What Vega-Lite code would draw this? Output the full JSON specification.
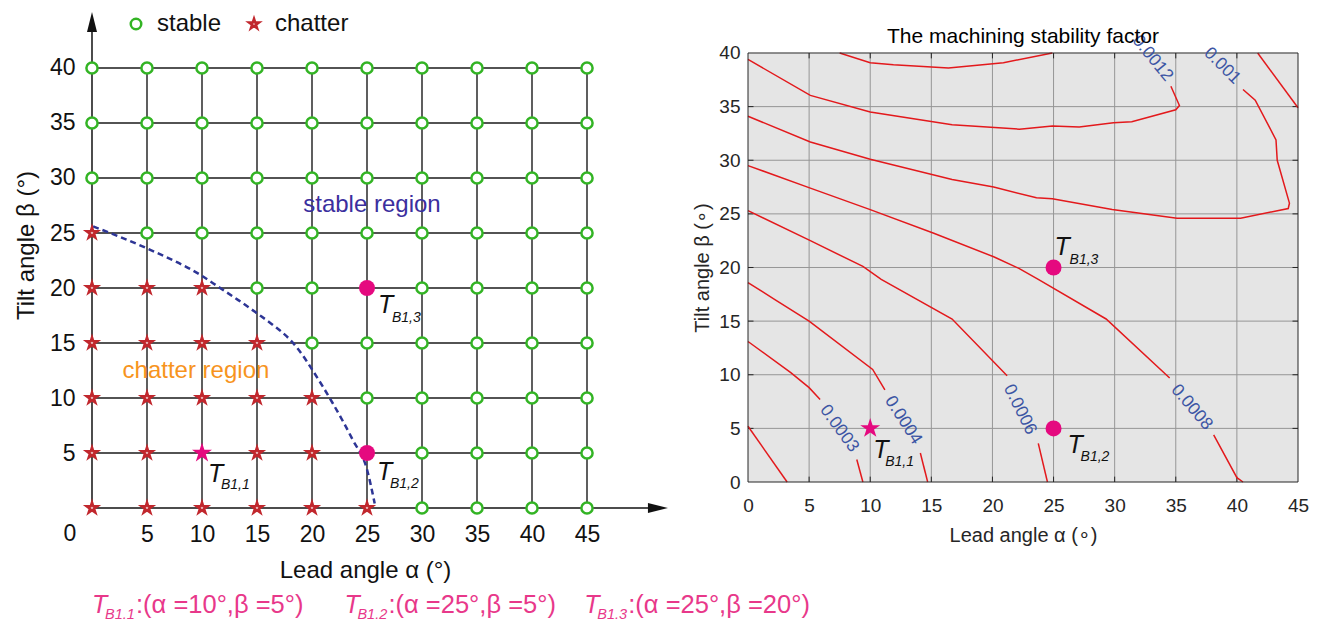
{
  "$schema": "https://vega.github.io/schema/vega-lite/v6.json",
  "background": "white",
  "autosize": {"type": "none"},
  "padding": 0,
  "width": 1322,
  "height": 622,
  "config": {
    "font": "Liberation Sans",
    "view": {"stroke": null},
    "axis": {"labelFont": "Liberation Sans", "titleFont": "Liberation Sans", "labelFlush": false, "labelOverlap": false}
  },
  "datasets": {
    "grid": [
      {"a": 0, "b": 40, "state": "stable"}, {"a": 5, "b": 40, "state": "stable"}, {"a": 10, "b": 40, "state": "stable"}, {"a": 15, "b": 40, "state": "stable"}, {"a": 20, "b": 40, "state": "stable"},
      {"a": 25, "b": 40, "state": "stable"}, {"a": 30, "b": 40, "state": "stable"}, {"a": 35, "b": 40, "state": "stable"}, {"a": 40, "b": 40, "state": "stable"}, {"a": 45, "b": 40, "state": "stable"},
      {"a": 0, "b": 35, "state": "stable"}, {"a": 5, "b": 35, "state": "stable"}, {"a": 10, "b": 35, "state": "stable"}, {"a": 15, "b": 35, "state": "stable"}, {"a": 20, "b": 35, "state": "stable"},
      {"a": 25, "b": 35, "state": "stable"}, {"a": 30, "b": 35, "state": "stable"}, {"a": 35, "b": 35, "state": "stable"}, {"a": 40, "b": 35, "state": "stable"}, {"a": 45, "b": 35, "state": "stable"},
      {"a": 0, "b": 30, "state": "stable"}, {"a": 5, "b": 30, "state": "stable"}, {"a": 10, "b": 30, "state": "stable"}, {"a": 15, "b": 30, "state": "stable"}, {"a": 20, "b": 30, "state": "stable"},
      {"a": 25, "b": 30, "state": "stable"}, {"a": 30, "b": 30, "state": "stable"}, {"a": 35, "b": 30, "state": "stable"}, {"a": 40, "b": 30, "state": "stable"}, {"a": 45, "b": 30, "state": "stable"},
      {"a": 0, "b": 25, "state": "chatter"}, {"a": 5, "b": 25, "state": "stable"}, {"a": 10, "b": 25, "state": "stable"}, {"a": 15, "b": 25, "state": "stable"}, {"a": 20, "b": 25, "state": "stable"},
      {"a": 25, "b": 25, "state": "stable"}, {"a": 30, "b": 25, "state": "stable"}, {"a": 35, "b": 25, "state": "stable"}, {"a": 40, "b": 25, "state": "stable"}, {"a": 45, "b": 25, "state": "stable"},
      {"a": 0, "b": 20, "state": "chatter"}, {"a": 5, "b": 20, "state": "chatter"}, {"a": 10, "b": 20, "state": "chatter"}, {"a": 15, "b": 20, "state": "stable"}, {"a": 20, "b": 20, "state": "stable"},
      {"a": 30, "b": 20, "state": "stable"}, {"a": 35, "b": 20, "state": "stable"}, {"a": 40, "b": 20, "state": "stable"}, {"a": 45, "b": 20, "state": "stable"},
      {"a": 0, "b": 15, "state": "chatter"}, {"a": 5, "b": 15, "state": "chatter"}, {"a": 10, "b": 15, "state": "chatter"}, {"a": 15, "b": 15, "state": "chatter"}, {"a": 20, "b": 15, "state": "stable"},
      {"a": 25, "b": 15, "state": "stable"}, {"a": 30, "b": 15, "state": "stable"}, {"a": 35, "b": 15, "state": "stable"}, {"a": 40, "b": 15, "state": "stable"}, {"a": 45, "b": 15, "state": "stable"},
      {"a": 0, "b": 10, "state": "chatter"}, {"a": 5, "b": 10, "state": "chatter"}, {"a": 10, "b": 10, "state": "chatter"}, {"a": 15, "b": 10, "state": "chatter"}, {"a": 20, "b": 10, "state": "chatter"},
      {"a": 25, "b": 10, "state": "stable"}, {"a": 30, "b": 10, "state": "stable"}, {"a": 35, "b": 10, "state": "stable"}, {"a": 40, "b": 10, "state": "stable"}, {"a": 45, "b": 10, "state": "stable"},
      {"a": 0, "b": 5, "state": "chatter"}, {"a": 5, "b": 5, "state": "chatter"}, {"a": 15, "b": 5, "state": "chatter"}, {"a": 20, "b": 5, "state": "chatter"},
      {"a": 30, "b": 5, "state": "stable"}, {"a": 35, "b": 5, "state": "stable"}, {"a": 40, "b": 5, "state": "stable"}, {"a": 45, "b": 5, "state": "stable"},
      {"a": 0, "b": 0, "state": "chatter"}, {"a": 5, "b": 0, "state": "chatter"}, {"a": 10, "b": 0, "state": "chatter"}, {"a": 15, "b": 0, "state": "chatter"}, {"a": 20, "b": 0, "state": "chatter"},
      {"a": 25, "b": 0, "state": "chatter"}, {"a": 30, "b": 0, "state": "stable"}, {"a": 35, "b": 0, "state": "stable"}, {"a": 40, "b": 0, "state": "stable"}, {"a": 45, "b": 0, "state": "stable"}
    ],
    "picks": [
      {"name": "B1,1", "a": 10, "b": 5},
      {"name": "B1,2", "a": 25, "b": 5},
      {"name": "B1,3", "a": 25, "b": 20}
    ],
    "boundary": [
      {"a": 0.1, "b": 25.6}, {"a": 5, "b": 23.6}, {"a": 10, "b": 21.1}, {"a": 11.5, "b": 20.1}, {"a": 13.3, "b": 18.9},
      {"a": 15, "b": 17.7}, {"a": 16.5, "b": 16.6}, {"a": 18, "b": 15.3}, {"a": 19, "b": 14.1}, {"a": 20, "b": 12.6},
      {"a": 21.9, "b": 9.5}, {"a": 23.7, "b": 6.2}, {"a": 25, "b": 3.5}, {"a": 25.7, "b": 0.4}
    ],
    "notes": [
      {"sub": "B1.1", "rest": ":(α =10°,β =5°)", "a": 0.0, "b": -9.55},
      {"sub": "B1.2", "rest": ":(α =25°,β =5°)", "a": 22.95, "b": -9.55},
      {"sub": "B1.3", "rest": ":(α =25°,β =20°)", "a": 44.75, "b": -9.55}
    ],
    "contours": [
      {"seg": "l2", "i": 0, "a": 0, "b": 5.2}, {"seg": "l2", "i": 1, "a": 3.2, "b": 0},
      {"seg": "l3a", "i": 0, "a": 0, "b": 13.1}, {"seg": "l3a", "i": 1, "a": 3.5, "b": 10.2}, {"seg": "l3a", "i": 2, "a": 5, "b": 8.8}, {"seg": "l3a", "i": 3, "a": 5.9, "b": 7.7},
      {"seg": "l3b", "i": 0, "a": 8.9, "b": 2.1}, {"seg": "l3b", "i": 1, "a": 9.4, "b": 0},
      {"seg": "l4a", "i": 0, "a": 0, "b": 18.6}, {"seg": "l4a", "i": 1, "a": 2.2, "b": 17.0}, {"seg": "l4a", "i": 2, "a": 5, "b": 15}, {"seg": "l4a", "i": 3, "a": 10.2, "b": 10.5}, {"seg": "l4a", "i": 4, "a": 11.2, "b": 8.6},
      {"seg": "l4b", "i": 0, "a": 14.1, "b": 2.7}, {"seg": "l4b", "i": 1, "a": 14.7, "b": 0},
      {"seg": "l6a", "i": 0, "a": 0, "b": 25.3}, {"seg": "l6a", "i": 1, "a": 5.1, "b": 22.5}, {"seg": "l6a", "i": 2, "a": 9.4, "b": 20.1}, {"seg": "l6a", "i": 3, "a": 10.9, "b": 18.9}, {"seg": "l6a", "i": 4, "a": 16.7, "b": 15.2}, {"seg": "l6a", "i": 5, "a": 21.2, "b": 9.9},
      {"seg": "l6b", "i": 0, "a": 23.75, "b": 3.6}, {"seg": "l6b", "i": 1, "a": 24.5, "b": 0},
      {"seg": "l8a", "i": 0, "a": 0, "b": 29.5}, {"seg": "l8a", "i": 1, "a": 5.1, "b": 27.4}, {"seg": "l8a", "i": 2, "a": 10, "b": 25.4}, {"seg": "l8a", "i": 3, "a": 15.2, "b": 23.2}, {"seg": "l8a", "i": 4, "a": 20.1, "b": 21.0},
      {"seg": "l8a", "i": 5, "a": 22.2, "b": 19.9}, {"seg": "l8a", "i": 6, "a": 23.75, "b": 18.9}, {"seg": "l8a", "i": 7, "a": 29.3, "b": 15.2}, {"seg": "l8a", "i": 8, "a": 34.5, "b": 9.7},
      {"seg": "l8b", "i": 0, "a": 38.1, "b": 4.4}, {"seg": "l8b", "i": 1, "a": 40, "b": 0.4}, {"seg": "l8b", "i": 2, "a": 40.5, "b": 0},
      {"seg": "l10", "i": 0, "a": 0, "b": 34.1}, {"seg": "l10", "i": 1, "a": 5.1, "b": 31.7}, {"seg": "l10", "i": 2, "a": 10, "b": 30.1}, {"seg": "l10", "i": 3, "a": 16.7, "b": 28.2},
      {"seg": "l10", "i": 4, "a": 20.1, "b": 27.5}, {"seg": "l10", "i": 5, "a": 23.6, "b": 26.5}, {"seg": "l10", "i": 6, "a": 24.9, "b": 26.4}, {"seg": "l10", "i": 7, "a": 29.8, "b": 25.4},
      {"seg": "l10", "i": 8, "a": 35.1, "b": 24.6}, {"seg": "l10", "i": 9, "a": 40.3, "b": 24.6}, {"seg": "l10", "i": 10, "a": 44.2, "b": 25.5}, {"seg": "l10", "i": 11, "a": 44.3, "b": 26.0},
      {"seg": "l10", "i": 12, "a": 43.3, "b": 30.0}, {"seg": "l10", "i": 13, "a": 43.2, "b": 31.9}, {"seg": "l10", "i": 14, "a": 41.5, "b": 35.6}, {"seg": "l10", "i": 15, "a": 40.5, "b": 36.6},
      {"seg": "l12", "i": 0, "a": 0, "b": 39.4}, {"seg": "l12", "i": 1, "a": 5.1, "b": 36.05}, {"seg": "l12", "i": 2, "a": 10, "b": 34.5}, {"seg": "l12", "i": 3, "a": 16.7, "b": 33.3},
      {"seg": "l12", "i": 4, "a": 22.2, "b": 32.9}, {"seg": "l12", "i": 5, "a": 24.9, "b": 33.2}, {"seg": "l12", "i": 6, "a": 27.1, "b": 33.1}, {"seg": "l12", "i": 7, "a": 29.9, "b": 33.5},
      {"seg": "l12", "i": 8, "a": 31.4, "b": 33.6}, {"seg": "l12", "i": 9, "a": 35, "b": 34.7}, {"seg": "l12", "i": 10, "a": 35.3, "b": 35.1}, {"seg": "l12", "i": 11, "a": 34.6, "b": 36.9},
      {"seg": "l14", "i": 0, "a": 7.5, "b": 40}, {"seg": "l14", "i": 1, "a": 10, "b": 39.1}, {"seg": "l14", "i": 2, "a": 11.9, "b": 38.9}, {"seg": "l14", "i": 3, "a": 16.4, "b": 38.6},
      {"seg": "l14", "i": 4, "a": 20.9, "b": 39.1}, {"seg": "l14", "i": 5, "a": 24.9, "b": 40},
      {"seg": "l10c", "i": 0, "a": 41.7, "b": 40}, {"seg": "l10c", "i": 1, "a": 45, "b": 34.9}
    ],
    "levels": [
      {"level": "0.0003", "a": 7.46, "b": 4.98},
      {"level": "0.0004", "a": 12.7, "b": 5.76},
      {"level": "0.0006", "a": 22.25, "b": 6.75},
      {"level": "0.0008", "a": 36.3, "b": 6.97},
      {"level": "0.001", "a": 38.8, "b": 38.8},
      {"level": "0.0012", "a": 33.1, "b": 39.5}
    ]
  },
  "resolve": {"scale": {"x": "independent", "y": "independent"}, "axis": {"x": "independent", "y": "independent"}},
  "layer": [
    {
      "encoding": {
        "x": {
          "field": "a", "type": "quantitative",
          "scale": {"domain": [-8.3636, 111.8182], "nice": false, "zero": false},
          "axis": {
            "orient": "bottom", "offset": -114,
            "values": [5, 10, 15, 20, 25, 30, 35, 40, 45],
            "domain": false, "ticks": false, "grid": false,
            "labelFontSize": 23, "labelColor": "#111111", "labelBaseline": "alphabetic", "labelPadding": 33,
            "title": "Lead angle α (°)", "titleFontSize": 24, "titleFontWeight": "normal", "titleColor": "#111111",
            "titleX": 365, "titleY": 69, "titleBaseline": "alphabetic"
          }
        },
        "y": {
          "field": "b", "type": "quantitative",
          "scale": {"domain": [-10.3636, 46.1818], "nice": false, "zero": false},
          "axis": {
            "orient": "left", "offset": -92,
            "values": [5, 10, 15, 20, 25, 30, 35, 40],
            "domain": false, "ticks": false, "grid": false,
            "labelFontSize": 23, "labelColor": "#111111", "labelPadding": 17,
            "title": "Tilt angle β (°)", "titleFontSize": 24, "titleFontWeight": "normal", "titleColor": "#111111",
            "titleX": -59, "titleY": 245, "titleBaseline": "alphabetic"
          }
        }
      },
      "layer": [
        {
          "data": {"values": [{"a": 5, "b": 0}, {"a": 10, "b": 0}, {"a": 15, "b": 0}, {"a": 20, "b": 0}, {"a": 25, "b": 0}, {"a": 30, "b": 0}, {"a": 35, "b": 0}, {"a": 40, "b": 0}, {"a": 45, "b": 0}]},
          "mark": {"type": "rule", "stroke": "#1a1a1a", "strokeWidth": 1.4},
          "encoding": {"y2": {"datum": 40}}
        },
        {
          "data": {"values": [{"a": 0, "b": 5}, {"a": 0, "b": 10}, {"a": 0, "b": 15}, {"a": 0, "b": 20}, {"a": 0, "b": 25}, {"a": 0, "b": 30}, {"a": 0, "b": 35}, {"a": 0, "b": 40}]},
          "mark": {"type": "rule", "stroke": "#1a1a1a", "strokeWidth": 1.4},
          "encoding": {"x2": {"datum": 45}}
        },
        {
          "data": {"values": [{"a": 0, "b": 0}]},
          "mark": {"type": "rule", "stroke": "#111111", "strokeWidth": 1.5},
          "encoding": {"y2": {"datum": 44.5}}
        },
        {
          "data": {"values": [{"a": 0, "b": 0}]},
          "mark": {"type": "rule", "stroke": "#111111", "strokeWidth": 1.5},
          "encoding": {"x2": {"datum": 51.8}}
        },
        {
          "data": {"values": [{"a": 0, "b": 45.09}]},
          "mark": {"type": "point", "shape": "M0,0L1,4L-1,4Z", "size": 100, "filled": true, "fill": "#111111", "opacity": 1, "strokeWidth": 0}
        },
        {
          "data": {"values": [{"a": 52.36, "b": 0}]},
          "mark": {"type": "point", "shape": "M0,0L-4,-1L-4,1Z", "size": 100, "filled": true, "fill": "#111111", "opacity": 1, "strokeWidth": 0}
        },
        {
          "data": {"name": "boundary"},
          "mark": {"type": "line", "stroke": "#2d3595", "strokeWidth": 2.5, "strokeDash": [6, 4], "interpolate": "monotone"},
          "encoding": {}
        },
        {
          "data": {"name": "grid"},
          "mark": {"type": "point", "fill": "white", "filled": false, "strokeWidth": 2.5, "opacity": 1, "size": 125},
          "encoding": {
            "stroke": {
              "field": "state", "type": "nominal",
              "scale": {"domain": ["stable", "chatter"], "range": ["#33b424", "#c1272d"]},
              "legend": {"orient": "none", "legendX": 124, "legendY": 12, "direction": "horizontal", "title": null,
                         "labelFontSize": 24, "labelColor": "#111111", "labelFont": "Liberation Sans",
                         "symbolStrokeWidth": 2.5, "symbolSize": 110, "symbolFillColor": "white",
                         "columnPadding": 20, "labelOffset": 9, "padding": 0}
            },
            "shape": {
              "field": "state", "type": "nominal",
              "scale": {"domain": ["stable", "chatter"],
                        "range": ["circle", "M0,-1L0.225,-0.309L0.951,-0.309L0.363,0.118L0.588,0.809L0,0.382L-0.588,0.809L-0.363,0.118L-0.951,-0.309L-0.225,-0.309Z"]},
              "legend": {"orient": "none", "legendX": 124, "legendY": 12, "direction": "horizontal", "title": null,
                         "labelFontSize": 24, "labelColor": "#111111", "labelFont": "Liberation Sans",
                         "symbolStrokeWidth": 2.5, "symbolSize": 110, "symbolFillColor": "white",
                         "columnPadding": 20, "labelOffset": 9, "padding": 0}
            }
          }
        },
        {
          "data": {"name": "picks"},
          "transform": [{"filter": "datum.name !== 'B1,1'"}],
          "mark": {"type": "point", "shape": "circle", "filled": true, "fill": "#e5097f", "size": 256, "opacity": 1, "strokeWidth": 0}
        },
        {
          "data": {"name": "picks"},
          "transform": [{"filter": "datum.name === 'B1,1'"}],
          "mark": {"type": "point", "shape": "M0,-1L0.225,-0.309L0.951,-0.309L0.363,0.118L0.588,0.809L0,0.382L-0.588,0.809L-0.363,0.118L-0.951,-0.309L-0.225,-0.309Z", "filled": true, "fill": "#e5097f", "size": 441, "opacity": 1, "strokeWidth": 0}
        },
        {
          "data": {"name": "picks"},
          "transform": [{"filter": "datum.name === 'B1,3'"}],
          "layer": [
            {"mark": {"type": "text", "text": "T", "align": "left", "baseline": "alphabetic", "fontStyle": "italic", "fontSize": 25, "color": "#111111", "dx": 11, "dy": 25}},
            {"mark": {"type": "text", "align": "left", "baseline": "alphabetic", "fontStyle": "italic", "fontSize": 14, "color": "#111111", "dx": 25, "dy": 34}, "encoding": {"text": {"field": "name"}}}
          ]
        },
        {
          "data": {"name": "picks"},
          "transform": [{"filter": "datum.name === 'B1,1'"}],
          "layer": [
            {"mark": {"type": "text", "text": "T", "align": "left", "baseline": "alphabetic", "fontStyle": "italic", "fontSize": 25, "color": "#111111", "dx": 6, "dy": 29}},
            {"mark": {"type": "text", "align": "left", "baseline": "alphabetic", "fontStyle": "italic", "fontSize": 14, "color": "#111111", "dx": 19, "dy": 36}, "encoding": {"text": {"field": "name"}}}
          ]
        },
        {
          "data": {"name": "picks"},
          "transform": [{"filter": "datum.name === 'B1,2'"}],
          "layer": [
            {"mark": {"type": "text", "text": "T", "align": "left", "baseline": "alphabetic", "fontStyle": "italic", "fontSize": 25, "color": "#111111", "dx": 10, "dy": 27}},
            {"mark": {"type": "text", "align": "left", "baseline": "alphabetic", "fontStyle": "italic", "fontSize": 14, "color": "#111111", "dx": 23, "dy": 35}, "encoding": {"text": {"field": "name"}}}
          ]
        },
        {
          "data": {"values": [{"label": "0", "a": 0, "b": 0}]},
          "mark": {"type": "text", "fontSize": 23, "color": "#111111", "align": "center", "baseline": "alphabetic", "dx": -22, "dy": 33},
          "encoding": {"text": {"field": "label"}}
        },
        {
          "data": {"values": [{"label": "stable region", "a": 25.45, "b": 27.55}]},
          "mark": {"type": "text", "fontSize": 24, "color": "#3b2f9e", "align": "center", "baseline": "middle"},
          "encoding": {"text": {"field": "label"}}
        },
        {
          "data": {"values": [{"label": "chatter region", "a": 9.45, "b": 12.45}]},
          "mark": {"type": "text", "fontSize": 24, "color": "#f7941d", "align": "center", "baseline": "middle"},
          "encoding": {"text": {"field": "label"}}
        },
        {
          "data": {"name": "notes"},
          "layer": [
            {"mark": {"type": "text", "text": "T", "align": "left", "baseline": "alphabetic", "fontStyle": "italic", "fontSize": 25, "color": "#e8388a"}},
            {"mark": {"type": "text", "align": "left", "baseline": "alphabetic", "fontStyle": "italic", "fontSize": 14.5, "color": "#e8388a", "dx": 13, "dy": 6}, "encoding": {"text": {"field": "sub"}}},
            {"mark": {"type": "text", "align": "left", "baseline": "alphabetic", "fontSize": 25.5, "color": "#e8388a", "dx": 44}, "encoding": {"text": {"field": "rest"}}}
          ]
        }
      ]
    },
    {
      "encoding": {
        "x": {
          "field": "a", "type": "quantitative",
          "scale": {"domain": [-61.2, 46.9636], "nice": false, "zero": false},
          "axis": {
            "orient": "bottom", "offset": -140,
            "values": [0, 5, 10, 15, 20, 25, 30, 35, 40, 45],
            "domain": false, "ticks": false, "grid": false,
            "labelFontSize": 19, "labelColor": "#262626", "labelBaseline": "alphabetic", "labelPadding": 29,
            "title": "Lead angle α (∘)", "titleFontSize": 20, "titleFontWeight": "normal", "titleColor": "#262626",
            "titleX": 1023, "titleY": 59, "titleBaseline": "alphabetic"
          }
        },
        "y": {
          "field": "b", "type": "quantitative",
          "scale": {"domain": [-13.0536, 44.9417], "nice": false, "zero": false},
          "axis": {
            "orient": "left", "offset": -748,
            "values": [0, 5, 10, 15, 20, 25, 30, 35, 40],
            "domain": false, "ticks": false, "grid": false,
            "labelFontSize": 19, "labelColor": "#262626", "labelPadding": 8,
            "title": "Tilt angle β (∘)", "titleFontSize": 20, "titleFontWeight": "normal", "titleColor": "#262626",
            "titleX": -40, "titleY": 267.5, "titleBaseline": "alphabetic"
          }
        }
      },
      "layer": [
        {
          "data": {"values": [{"a": 0, "b": 0}]},
          "mark": {"type": "rect", "fill": "#e5e5e5"},
          "encoding": {"x2": {"datum": 45}, "y2": {"datum": 40}}
        },
        {
          "data": {"values": [{"a": 5, "b": 0}, {"a": 10, "b": 0}, {"a": 15, "b": 0}, {"a": 20, "b": 0}, {"a": 25, "b": 0}, {"a": 30, "b": 0}, {"a": 35, "b": 0}, {"a": 40, "b": 0}]},
          "mark": {"type": "rule", "stroke": "#969696", "strokeWidth": 1},
          "encoding": {"y2": {"datum": 40}}
        },
        {
          "data": {"values": [{"a": 0, "b": 5}, {"a": 0, "b": 10}, {"a": 0, "b": 15}, {"a": 0, "b": 20}, {"a": 0, "b": 25}, {"a": 0, "b": 30}, {"a": 0, "b": 35}]},
          "mark": {"type": "rule", "stroke": "#969696", "strokeWidth": 1},
          "encoding": {"x2": {"datum": 45}}
        },
        {
          "data": {"values": [{"a": 5, "b": 0}, {"a": 10, "b": 0}, {"a": 15, "b": 0}, {"a": 20, "b": 0}, {"a": 25, "b": 0}, {"a": 30, "b": 0}, {"a": 35, "b": 0}, {"a": 40, "b": 0}]},
          "mark": {"type": "rule", "stroke": "#262626", "strokeWidth": 1},
          "encoding": {"y2": {"datum": 0.5}}
        },
        {
          "data": {"values": [{"a": 5, "b": 40}, {"a": 10, "b": 40}, {"a": 15, "b": 40}, {"a": 20, "b": 40}, {"a": 25, "b": 40}, {"a": 30, "b": 40}, {"a": 35, "b": 40}, {"a": 40, "b": 40}]},
          "mark": {"type": "rule", "stroke": "#262626", "strokeWidth": 1},
          "encoding": {"y2": {"datum": 39.5}}
        },
        {
          "data": {"values": [{"a": 0, "b": 5}, {"a": 0, "b": 10}, {"a": 0, "b": 15}, {"a": 0, "b": 20}, {"a": 0, "b": 25}, {"a": 0, "b": 30}, {"a": 0, "b": 35}]},
          "mark": {"type": "rule", "stroke": "#262626", "strokeWidth": 1},
          "encoding": {"x2": {"datum": 0.45}}
        },
        {
          "data": {"values": [{"a": 45, "b": 5}, {"a": 45, "b": 10}, {"a": 45, "b": 15}, {"a": 45, "b": 20}, {"a": 45, "b": 25}, {"a": 45, "b": 30}, {"a": 45, "b": 35}]},
          "mark": {"type": "rule", "stroke": "#262626", "strokeWidth": 1},
          "encoding": {"x2": {"datum": 44.55}}
        },
        {
          "data": {"name": "contours"},
          "mark": {"type": "line", "stroke": "#e3191c", "strokeWidth": 1.5},
          "encoding": {"detail": {"field": "seg", "type": "nominal"}, "order": {"field": "i", "type": "quantitative"}}
        },
        {
          "data": {"values": [{"a": 0, "b": 0}]},
          "mark": {"type": "rect", "fillOpacity": 0, "stroke": "#262626", "strokeWidth": 1},
          "encoding": {"x2": {"datum": 45}, "y2": {"datum": 40}}
        },
        {
          "data": {"name": "levels"},
          "transform": [{"filter": "datum.level === '0.0003'"}],
          "mark": {"type": "text", "fontSize": 17.5, "color": "#3c55a4", "align": "center", "baseline": "middle", "angle": 54},
          "encoding": {"text": {"field": "level"}}
        },
        {
          "data": {"name": "levels"},
          "transform": [{"filter": "datum.level === '0.0004'"}],
          "mark": {"type": "text", "fontSize": 17.5, "color": "#3c55a4", "align": "center", "baseline": "middle", "angle": 57.5},
          "encoding": {"text": {"field": "level"}}
        },
        {
          "data": {"name": "levels"},
          "transform": [{"filter": "datum.level === '0.0006'"}],
          "mark": {"type": "text", "fontSize": 17.5, "color": "#3c55a4", "align": "center", "baseline": "middle", "angle": 63.7},
          "encoding": {"text": {"field": "level"}}
        },
        {
          "data": {"name": "levels"},
          "transform": [{"filter": "datum.level === '0.0008'"}],
          "mark": {"type": "text", "fontSize": 17.5, "color": "#3c55a4", "align": "center", "baseline": "middle", "angle": 49.5},
          "encoding": {"text": {"field": "level"}}
        },
        {
          "data": {"name": "levels"},
          "transform": [{"filter": "datum.level === '0.001'"}],
          "mark": {"type": "text", "fontSize": 17.5, "color": "#3c55a4", "align": "center", "baseline": "middle", "angle": 44.8},
          "encoding": {"text": {"field": "level"}}
        },
        {
          "data": {"name": "levels"},
          "transform": [{"filter": "datum.level === '0.0012'"}],
          "mark": {"type": "text", "fontSize": 17.5, "color": "#3c55a4", "align": "center", "baseline": "middle", "angle": 50.6},
          "encoding": {"text": {"field": "level"}}
        },
        {
          "data": {"name": "picks"},
          "transform": [{"filter": "datum.name !== 'B1,1'"}],
          "mark": {"type": "point", "shape": "circle", "filled": true, "fill": "#e5097f", "size": 256, "opacity": 1, "strokeWidth": 0}
        },
        {
          "data": {"name": "picks"},
          "transform": [{"filter": "datum.name === 'B1,1'"}],
          "mark": {"type": "point", "shape": "M0,-1L0.225,-0.309L0.951,-0.309L0.363,0.118L0.588,0.809L0,0.382L-0.588,0.809L-0.363,0.118L-0.951,-0.309L-0.225,-0.309Z", "filled": true, "fill": "#e5097f", "size": 441, "opacity": 1, "strokeWidth": 0}
        },
        {
          "data": {"name": "picks"},
          "transform": [{"filter": "datum.name === 'B1,3'"}],
          "layer": [
            {"mark": {"type": "text", "text": "T", "align": "left", "baseline": "alphabetic", "fontStyle": "italic", "fontSize": 25, "color": "#111111", "dx": 1, "dy": -12}},
            {"mark": {"type": "text", "align": "left", "baseline": "alphabetic", "fontStyle": "italic", "fontSize": 14, "color": "#111111", "dx": 16, "dy": -3}, "encoding": {"text": {"field": "name"}}}
          ]
        },
        {
          "data": {"name": "picks"},
          "transform": [{"filter": "datum.name === 'B1,1'"}],
          "layer": [
            {"mark": {"type": "text", "text": "T", "align": "left", "baseline": "alphabetic", "fontStyle": "italic", "fontSize": 25, "color": "#111111", "dx": 3, "dy": 30}},
            {"mark": {"type": "text", "align": "left", "baseline": "alphabetic", "fontStyle": "italic", "fontSize": 14, "color": "#111111", "dx": 15, "dy": 38}, "encoding": {"text": {"field": "name"}}}
          ]
        },
        {
          "data": {"name": "picks"},
          "transform": [{"filter": "datum.name === 'B1,2'"}],
          "layer": [
            {"mark": {"type": "text", "text": "T", "align": "left", "baseline": "alphabetic", "fontStyle": "italic", "fontSize": 25, "color": "#111111", "dx": 14, "dy": 25}},
            {"mark": {"type": "text", "align": "left", "baseline": "alphabetic", "fontStyle": "italic", "fontSize": 14, "color": "#111111", "dx": 27, "dy": 33}, "encoding": {"text": {"field": "name"}}}
          ]
        },
        {
          "data": {"values": [{"label": "The machining stability factor", "a": 22.5, "b": 40.9}]},
          "mark": {"type": "text", "fontSize": 21, "color": "#000000", "align": "center", "baseline": "alphabetic"},
          "encoding": {"text": {"field": "label"}}
        }
      ]
    }
  ]
}
